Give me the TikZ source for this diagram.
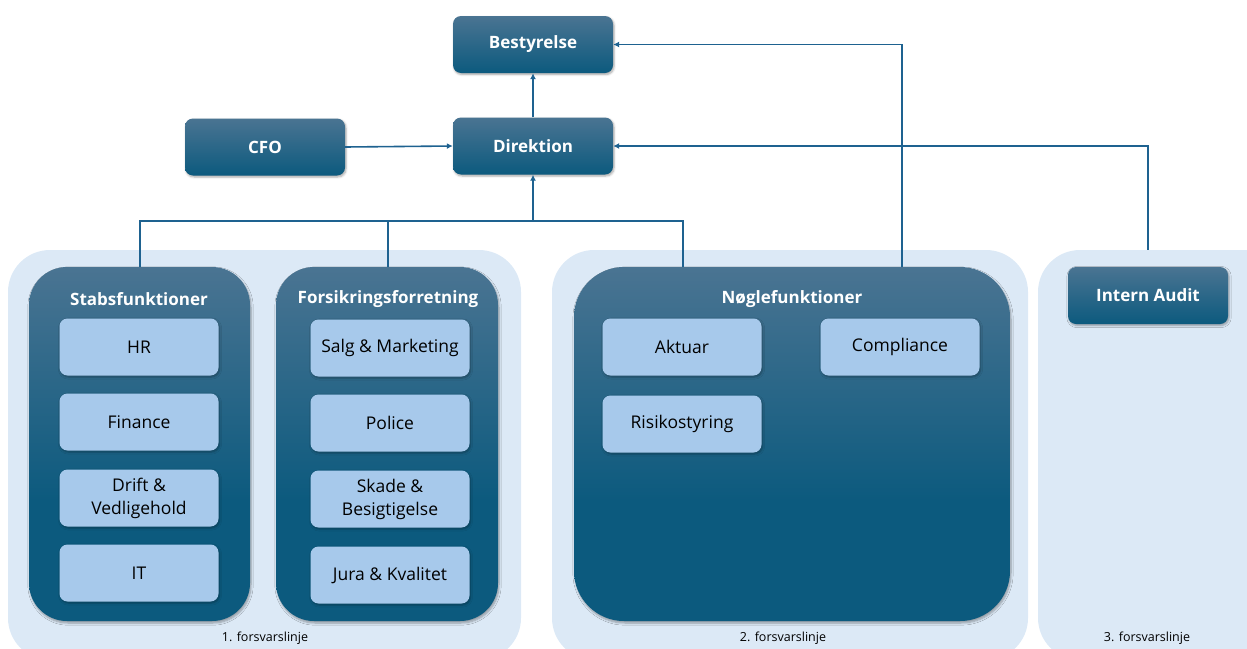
\documentclass[tikz,border=0pt]{standalone}
\usepackage{fontspec}
\setmainfont{Open Sans}[Ligatures=NoCommon]
\usetikzlibrary{arrows.meta,shadows.blur}
\definecolor{panelc}{HTML}{DCE9F6}
\definecolor{dtop}{HTML}{4A7492}
\definecolor{dbot}{HTML}{0C5A7E}
\definecolor{lboxc}{HTML}{A7C9EB}
\definecolor{linec}{HTML}{1E6290}
\pgfdeclareverticalshading{contshade}{100bp}{color(0bp)=(dbot); color(25bp)=(dbot); color(42bp)=(dbot); color(75bp)=(dtop); color(100bp)=(dtop)}
\tikzset{
  panel/.style={fill=panelc, draw=none, rounded corners=42pt},
  cont/.style={shading=contshade, draw=none, rounded corners=38pt, inner sep=0pt,
    blur shadow={shadow blur steps=6, shadow xshift=1pt, shadow yshift=-2pt, shadow opacity=35}},
  ctitle/.style={text=white, font=\bfseries\fontsize{17}{20}\selectfont},
  lbox/.style={fill=lboxc, draw=none, rounded corners=8pt, inner sep=0pt,
    minimum width=159pt, minimum height=57pt, align=center,
    font=\fontsize{17.5}{23}\selectfont, text=black,
    blur shadow={shadow blur steps=5, shadow xshift=1pt, shadow yshift=-1.5pt, shadow opacity=30}},
  dbox/.style={top color=dtop, bottom color=dbot, draw=none, rounded corners=8pt, inner sep=0pt,
    minimum width=160pt, minimum height=57pt, text=white,
    font=\bfseries\fontsize{17}{20}\selectfont,
    blur shadow={shadow blur steps=5, shadow xshift=1pt, shadow yshift=-1.5pt, shadow opacity=35}},
  conn/.style={draw=linec, line width=1.6pt},
  arr/.style={conn, -{Latex[length=6pt,width=6pt]}},
  lineno/.style={font=\fontsize{12.5}{15}\selectfont, text=black}
}
\begin{document}
\begin{tikzpicture}[x=1pt,y=-1pt]
\useasboundingbox (0,0) rectangle (1247,648);
\clip (0,0) rectangle (1247,648);
% background panels
\node[panel, minimum width=513pt, minimum height=410pt, inner sep=0pt] (p1) at (264.5,455) {};
\node[panel, minimum width=476pt, minimum height=410pt, inner sep=0pt] (p2) at (790,455) {};
\node[panel, minimum width=250pt, minimum height=410pt, inner sep=0pt] (p3) at (1163,455) {};
\node[lineno] (l1) at (265,638) {1. forsvarslinje};
\node[lineno] (l2) at (783,638) {2. forsvarslinje};
\node[lineno] (l3) at (1147,638) {3. forsvarslinje};
% containers
\node[cont, minimum width=221pt, minimum height=354pt] (stab) at (139.5,444) {};
\node[cont, minimum width=222pt, minimum height=354pt] (fors) at (387,444) {};
\node[cont, minimum width=436pt, minimum height=354pt, rounded corners=50pt] (nogle) at (792,444) {};
\node[ctitle] (tstab) at (139,299) {Stabsfunktioner};
\node[ctitle] (tfors) at (388,299) {Forsikringsforretning};
\node[ctitle] (tnogle) at (792,299) {Nøglefunktioner};
% light boxes
\node[lbox] (hr) at (139,347) {HR};
\node[lbox] (fin) at (139,422) {Finance};
\node[lbox] (drift) at (139,498) {Drift \&\\Vedligehold};
\node[lbox] (it) at (139,573) {IT};
\node[lbox] (salg) at (390,348) {Salg \& Marketing};
\node[lbox] (police) at (390,423) {Police};
\node[lbox] (skade) at (390,499) {Skade \&\\Besigtigelse};
\node[lbox] (jura) at (390,575) {Jura \& Kvalitet};
\node[lbox] (akt) at (682,347) {Aktuar};
\node[lbox] (comp) at (900,347) {Compliance};
\node[lbox] (risk) at (682,424) {Risikostyring};
% dark boxes
\node[dbox] (best) at (533,44.5) {Bestyrelse};
\node[dbox] (dir) at (533,146) {Direktion};
\node[dbox] (cfo) at (265,147) {CFO};
\node[dbox] (audit) at (1148,295.5) {Intern Audit};
% connectors
\coordinate (bus) at (533,221);
\draw[arr] (cfo.east) -- (dir.west);
\draw[arr] (dir.north) -- (best.south);
\draw[conn] (stab.north -| 140,0) |- (bus);
\draw[conn] (fors.north -| 388,0) -- (bus -| 388,0);
\draw[conn] (nogle.north -| 683,0) |- (bus);
\draw[arr] (bus) -- (dir.south);
\draw[arr] (nogle.north -| 902,0) |- (best.east);
\draw[arr] (p3.north -| audit.north) |- (dir.east);
\end{tikzpicture}
\end{document}
